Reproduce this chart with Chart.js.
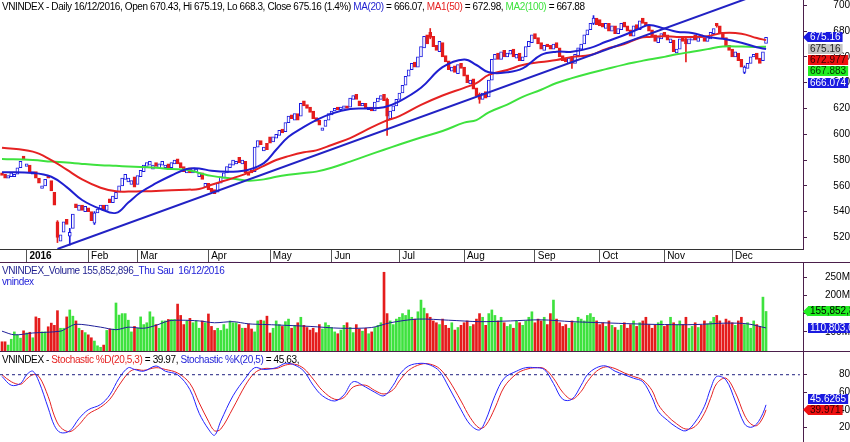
<!DOCTYPE html>
<html>
<head>
<meta charset="utf-8">
<title>VNINDEX</title>
<script src="https://cdn.jsdelivr.net/npm/chart.js@4.4.1/dist/chart.umd.min.js"></script>
<style>
  body { margin: 0; background: #fff; }
  #board { position: relative; width: 850px; height: 442px; overflow: hidden; font-family: "Liberation Sans", Arial, sans-serif; }
  #board canvas { position: absolute; left: 0; }
  .hdr { position: absolute; left: 2px; font-size: 10px; line-height: 11px; letter-spacing: -0.4px; white-space: nowrap; color: #000; z-index: 2; }
  .sep { position: absolute; left: 0; width: 850px; height: 1px; background: #4b1f4b; z-index: 2; }
</style>
</head>
<body>
<div id="board">
  <canvas id="priceChart" width="850" height="262" style="top:0"></canvas>
  <canvas id="volChart" width="850" height="88" style="top:263px"></canvas>
  <canvas id="stochChart" width="850" height="90" style="top:352px"></canvas>

  <div class="hdr" style="top:1px">VNINDEX - Daily 16/12/2016, Open 670.43, Hi 675.19, Lo 668.3, Close 675.16 (1.4%) <span style="color:#1f1fd0">MA(20)</span> = 666.07, <span style="color:#e52222">MA1(50)</span> = 672.98, <span style="color:#3ee23e">MA2(100)</span> = 667.88</div>
  <div class="sep" style="top:262px"></div>
  <div class="hdr" style="top:265px;color:#1f1f8f">VNINDEX_Volume 155,852,896<span style="color:#2424d8">_Thu Sau&nbsp; 16/12/2016</span></div>
  <div class="hdr" style="top:276px;color:#2424d8">vnindex</div>
  <div class="sep" style="top:351px"></div>
  <div class="hdr" style="top:354px">VNINDEX - <span style="color:#e52222">Stochastic %D(20,5,3)</span> = 39.97, <span style="color:#2424d8">Stochastic %K(20,5)</span> = 45.63,</div>
</div>

<script>
// trading days: Dec 2015 .. 16/12/2016 (index 0..248)
const monthIdx = [8, 28, 44, 67, 87, 107, 129, 150, 173, 194, 215, 237];
const monthLabels = ['2016', 'Feb', 'Mar', 'Apr', 'May', 'Jun', 'Jul', 'Aug', 'Sep', 'Oct', 'Nov', 'Dec'];

const closes = [
  568,566,568,570,569,574,579,580,577,570,
  571,566,562,560,565,566,556,545,520,522,
  532,530,524,538,543,545,541,544,540,533,
  539,542,545,541,545,547,552,555,560,566,
  569,566,564,559,568,572,576,578,579,576,
  575,577,579,576,573,578,580,577,574,571,
  573,570,574,573,570,565,562,557,555,554,
  562,567,570,575,577,580,579,578,580,570,
  568,570,590,595,592,590,588,593,598,600,
  603,601,609,614,612,616,611,624,622,620,
  617,612,610,607,605,611,616,618,620,619,
  621,622,620,628,630,627,622,624,620,621,
  618,625,628,630,626,614,618,622,627,632,
  638,645,650,655,652,660,668,676,670,675,
  668,665,672,660,656,650,652,648,654,651,
  645,640,642,635,630,627,632,628,642,658,
  662,658,664,660,663,665,660,662,657,660,
  668,672,677,674,670,666,669,668,666,670,
  667,660,657,656,659,655,662,667,670,677,
  681,686,690,685,684,683,686,680,684,678,
  682,686,683,680,676,684,681,688,686,684,
  680,676,672,675,678,676,673,674,664,666,
  674,672,670,674,676,673,675,675,672,675,
  679,682,684,678,674,668,665,660,664,657,
  652,652,655,660,662,658,655,664,675.16
];
const opens = [
  570,569,566,567,567,569,574,583,575,576,
  569,571,566,558,560,568,564,555,532,517,
  524,534,521,527,546,541,545,540,543,540,
  531,539,542,545,541,550,547,550,555,560,
  565,563,561,567,561,567,571,575,576,573,
  578,574,576,574,577,574,577,581,578,575,
  570,574,570,571,567,570,559,562,558,557,
  555,562,566,570,574,576,577,582,577,579,
  571,572,571,590,595,587,593,598,594,597,
  599,604,602,609,615,611,616,614,626,623,
  621,618,613,611,603,606,611,615,618,621,
  619,620,622,621,627,631,626,622,624,619,
  621,618,625,627,631,627,612,618,622,627,
  632,638,645,650,656,652,660,667,677,679,
  676,669,664,671,661,657,649,653,647,655,
  652,646,639,643,636,631,627,633,629,642,
  658,663,658,665,660,662,666,659,663,657,
  660,668,671,678,675,671,665,670,669,666,
  671,667,661,658,655,660,655,661,666,670,
  677,681,686,690,689,686,682,686,680,684,
  678,681,687,684,681,676,685,681,690,687,
  684,681,677,671,674,679,677,671,673,663,
  666,676,674,670,673,677,672,677,675,672,
  674,678,686,684,679,675,669,666,660,663,
  658,648,651,655,660,663,659,657,670.43
];
// [index, low, high] for the visible shadows
const wicks = [[18, 516, 533], [22, 514, 527], [30, 530, 540], [125, 599, 628], [139, 674, 682],
  [155, 624, 632], [185, 651, 660], [192, 685, 692], [222, 656, 675], [232, 683, 686], [241, 647, 653]];

// volume in millions
const volume = [
  73,73,64,80,100,92,83,103,97,99,
  84,141,137,100,100,114,124,118,158,110,
  110,141,160,143,130,110,104,98,92,84,
  75,62,58,64,104,108,108,179,146,150,
  150,132,100,115,110,141,120,125,155,141,
  120,110,130,130,134,134,134,176,145,120,
  130,137,125,130,110,130,125,149,115,104,
  110,104,120,108,130,125,125,120,110,110,
  122,108,100,130,132,130,143,97,110,130,
  120,115,128,135,110,118,125,140,118,112,
  105,110,98,120,108,125,118,112,100,95,
  105,118,125,112,98,120,108,102,110,95,
  100,112,118,125,263,150,130,120,135,140,
  150,145,160,140,135,155,187,165,150,140,
  130,125,120,135,118,110,125,105,112,118,
  125,130,115,120,135,150,140,118,150,160,
  145,130,140,125,115,120,110,130,125,118,
  130,140,155,125,135,130,140,120,150,187,
  135,125,115,120,110,130,125,140,135,130,
  145,150,140,130,120,125,115,130,118,112,
  105,118,125,110,120,130,115,125,130,140,
  120,110,118,125,130,115,120,140,125,118,
  130,120,140,110,115,125,112,118,130,122,
  128,140,145,130,120,135,130,125,118,130,
  140,120,125,110,130,120,115,195,155.85
];

const maIdx = [0,10,16,21,26,32,37,41,45,50,55,60,64,68,75,80,85,89,93,98,102,107,113,118,124,
  129,136,143,150,154,158,164,169,175,180,185,191,196,202,207,210,215,219,224,229,234,240,245,248];
const ma20 = [570.6,570,567,559,549,542,539,547,555,562,568,573,573.5,571.6,571,572.5,577.6,588,598,605.7,
  611,616,619.5,620,621,625.5,636,652,658,653.7,648,648,651,661.5,664,664,667,671.7,677,682,
  684.7,682,679.5,678.5,675.5,674,671,667.5,666.07];
const ma50 = [589.6,586.5,580,572.5,565,558.5,555.7,555.5,555.7,556,556.5,557,557.5,560.8,566,570,575.5,580,583,586,
  587.5,591.7,597,603,609.8,614,622.7,630,636,639.7,646,649.8,653.7,656,657.6,660,661.5,666,670,674.6,
  675.5,676,675.5,675.5,676,678.5,678,674.6,672.98];
const ma100 = [580.8,580,578.8,578,577,576,575.5,575,574.5,574,573,572.5,570,567.7,565.5,564,565,567,568.5,570,
  571,574,578.8,583,588,592,597.5,602.5,609,611,617,623,629,634.5,639.7,643.5,647.5,650.5,654,656.5,
  658,660,662,664,666,668,668,667.7,667.88];
const trendIdx = [18, 248];
const trendVal = [511, 710.6];

const volMaIdx = [0,4,10,19,21,24,32,37,41,46,50,54,58,64,69,75,80,86,89,100,110,120,126,135,145,155,165,175,185,195,205,215,225,235,242,248];
const volMa = [102,92,97,102,110,121,113,106,113,110,118,130,132,130,125,128,122,120,119,115,110,112,125,135,132,128,130,133,128,125,122,120,120,124,122,110.8];

const stochIdx = [0,3,6,8,10,12,15,17,19,22,25,28,32,35,38,41,43,46,50,53,57,61,64,67,69,71,75,79,82,85,
  89,92,95,98,101,104,108,111,114,118,121,124,127,129,132,136,139,142,145,149,152,155,157,160,163,167,170,173,176,179,
  182,185,188,190,193,196,199,202,205,208,211,213,216,219,222,225,228,230,232,235,238,241,243,245,247,248];
const stochK = [78,68,70,80,84,72,42,22,14,16,30,40,46,57,76,88,86,84,90,84,80,63,36,18,11,27,56,76,88,86,
  88,93,91,84,68,56,50,57,72,66,60,56,68,80,90,93,91,84,66,40,23,17,28,56,76,84,88,88,86,70,
  52,52,68,80,88,90,84,80,76,72,54,38,28,20,16,26,44,64,78,74,50,24,20,24,36,45.63];
const stochD = [80,72,69,75,80,78,55,33,20,15,23,35,43,52,68,82,86,85,88,86,82,70,48,27,16,18,42,68,82,87,
  87,91,92,87,75,62,52,54,66,68,62,58,63,73,85,92,92,87,74,50,31,19,22,42,66,81,86,88,87,76,
  60,52,61,72,84,89,87,82,78,74,62,46,33,24,18,21,36,53,70,76,60,34,24,22,31,39.97];
const stochLevel = 80;

const priceTicks = [520, 540, 560, 580, 600, 620, 640, 660, 680, 700];
const volTicks = [100, 150, 200, 250];
const stochTicks = [20, 40, 60, 80];

const priceTagText = ['675.16', '675.16', '672.977', '667.883', '666.074'];
const volTagText = ['155,852,896', '110,803,000'];
const stochTagText = ['45.6265', '39.971'];

const xMin = -0.65, xMax = 260;
const AXIS = '#4b1f4b';
const BLUE = '#1a1ae0', RED = '#e51c1c', GREEN = '#3ee23e';
const FONT = "'Liberation Sans', Arial, sans-serif";

Chart.defaults.font.family = FONT;
Chart.defaults.font.size = 10;
Chart.defaults.color = '#000';
Chart.defaults.animation = false;
Chart.defaults.plugins.legend.display = false;
Chart.defaults.plugins.tooltip.enabled = false;

const up = closes.map((c, i) => c >= opens[i]);

function pairs(idx, vals) {
  return idx.map((x, k) => ({ x: x, y: vals[k] }));
}

function line(data, color, width, tension) {
  return { type: 'line', data: data, borderColor: color, borderWidth: width, pointRadius: 0, tension: tension || 0 };
}

function rightAxis(min, max, ticks, fmt, pad) {
  return {
    position: 'right', min: min, max: max,
    afterBuildTicks: s => { s.ticks = ticks.map(v => ({ value: v })); },
    afterFit: s => { s.width = 47; s.paddingTop = 0; s.paddingBottom = 0; },
    ticks: { callback: fmt, crossAlign: 'far', padding: pad, color: '#000', font: { size: 10 } },
    grid: { drawOnChartArea: false, tickLength: 4, color: AXIS },
    border: { color: AXIS, width: 1 }
  };
}

function hiddenX() {
  return { type: 'linear', min: xMin, max: xMax, display: false, offset: false };
}

// coloured value tag on the right axis
function tag(ctx, text, yc, bg, fg, arrow) {
  ctx.save();
  ctx.font = '10px ' + FONT;
  const x0 = 808, h = 10;
  const w = ctx.measureText(text).width + 4;
  ctx.fillStyle = bg;
  ctx.fillRect(x0, Math.round(yc - h / 2), w, h);
  if (arrow) {
    ctx.beginPath();
    ctx.moveTo(x0 - 5, yc);
    ctx.lineTo(x0, yc - h / 2);
    ctx.lineTo(x0, yc + h / 2);
    ctx.closePath();
    ctx.fill();
  }
  ctx.fillStyle = fg;
  ctx.textBaseline = 'middle';
  ctx.fillText(text, x0 + 2, Math.round(yc) + 0.5);
  ctx.restore();
}

const priceTags = {
  id: 'priceTags',
  afterDraw(chart) {
    const y0 = chart.scales.y.getPixelForValue(closes[closes.length - 1]);
    const styles = [[BLUE, '#fff', true], ['#c4c4c4', '#222', false], ['#ee1111', '#300', false], ['#22ee22', '#030', false], [BLUE, '#fff', false]];
    priceTagText.forEach((t, k) => tag(chart.ctx, t, y0 + k * 11.3, styles[k][0], styles[k][1], styles[k][2]));
  }
};

const volTags = {
  id: 'volTags',
  afterDraw(chart) {
    const y = chart.scales.y;
    tag(chart.ctx, volTagText[0], y.getPixelForValue(volume[volume.length - 1]), '#22ee22', '#000', true);
    tag(chart.ctx, volTagText[1], y.getPixelForValue(volMa[volMa.length - 1]), BLUE, '#fff', false);
  }
};

const stochTags = {
  id: 'stochTags',
  afterDraw(chart) {
    const yd = chart.scales.y.getPixelForValue(stochD[stochD.length - 1]);
    tag(chart.ctx, stochTagText[0], yd - 11, BLUE, '#fff', false);
    tag(chart.ctx, stochTagText[1], yd, '#ee1111', '#300', true);
  }
};

// price panel
new Chart(document.getElementById('priceChart'), {
  type: 'bar',
  data: {
    datasets: [
      line(pairs(trendIdx, trendVal), '#2222c4', 2),
      line(pairs(maIdx, ma20), '#1f1fd0', 2, 0.4),
      line(pairs(maIdx, ma50), '#e52222', 2, 0.4),
      line(pairs(maIdx, ma100), GREEN, 2, 0.4),
      {
        type: 'bar',
        data: closes.map((c, i) => ({ x: i, y: [opens[i], c] })),
        barThickness: 3, grouped: false, borderWidth: 1, borderSkipped: false,
        backgroundColor: up.map(u => u ? '#fff' : RED),
        borderColor: up.map(u => u ? BLUE : RED)
      },
      {
        type: 'bar',
        data: wicks.map(w => ({ x: w[0], y: [w[1], w[2]] })),
        barThickness: 1, grouped: false,
        backgroundColor: wicks.map(w => up[w[0]] ? BLUE : RED)
      }
    ]
  },
  options: {
    responsive: false,
    layout: { padding: 0 },
    scales: {
      x: {
        type: 'linear', min: xMin, max: xMax, position: 'bottom', offset: false,
        afterBuildTicks: s => { s.ticks = monthIdx.map(v => ({ value: v })); },
        afterFit: s => { s.height = 13; s.paddingLeft = 0; s.paddingRight = 0; },
        ticks: {
          callback: (v, k) => ' ' + monthLabels[k],
          align: 'start', autoSkip: false, maxRotation: 0, padding: -12, color: '#000',
          font: c => ({ size: 10, weight: c.index === 0 ? 'bold' : 'normal' })
        },
        grid: { drawOnChartArea: false, offset: false, tickLength: 13, color: '#555' },
        border: { color: '#333' }
      },
      y: rightAxis(511, 704.1, priceTicks, v => v, 22)
    }
  },
  plugins: [priceTags]
});

// volume panel
new Chart(document.getElementById('volChart'), {
  type: 'bar',
  data: {
    datasets: [
      line(pairs(volMaIdx, volMa), '#1f1f99', 1, 0.3),
      {
        type: 'bar',
        data: volume.map((v, i) => ({ x: i, y: v })),
        barThickness: 2, grouped: false,
        backgroundColor: up.map(u => u ? GREEN : RED)
      }
    ]
  },
  options: {
    responsive: false,
    layout: { padding: 0 },
    scales: { x: hiddenX(), y: rightAxis(47.8, 288.3, volTicks, v => v + 'M', 15) }
  },
  plugins: [volTags]
});

// stochastic panel
new Chart(document.getElementById('stochChart'), {
  type: 'line',
  data: {
    datasets: [
      Object.assign(line([{ x: xMin, y: stochLevel }, { x: 259, y: stochLevel }], '#1f1f80', 1), { borderDash: [3, 3] }),
      line(pairs(stochIdx, stochK), '#2424ff', 1, 0.35),
      line(pairs(stochIdx, stochD), '#e52222', 1, 0.35)
    ]
  },
  options: {
    responsive: false,
    layout: { padding: 0 },
    scales: { x: hiddenX(), y: rightAxis(3.26, 105.9, stochTicks, v => v, 27) }
  },
  plugins: [stochTags]
});
</script>
</body>
</html>
